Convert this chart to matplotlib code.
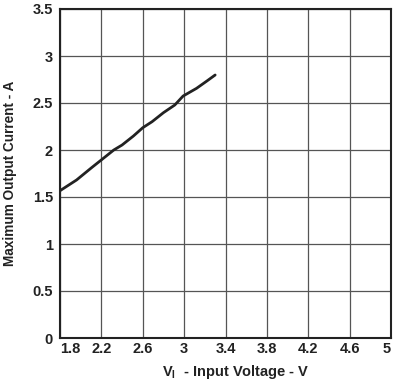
import matplotlib

matplotlib.use("Agg")
import matplotlib.pyplot as plt

plt.rcParams["font.family"] = ["Liberation Sans", "DejaVu Sans"]
plt.rcParams["font.weight"] = "bold"
plt.rcParams["mathtext.fontset"] = "custom"
plt.rcParams["mathtext.bf"] = "Liberation Sans:bold"
plt.rcParams["mathtext.rm"] = "Liberation Sans:bold"

input_voltage = [1.80, 1.96, 2.11, 2.19, 2.32, 2.40, 2.51, 2.60, 2.69, 2.80, 2.91, 2.99, 3.12, 3.22, 3.30]
max_current = [1.567, 1.681, 1.816, 1.886, 2.000, 2.053, 2.149, 2.237, 2.301, 2.397, 2.479, 2.574, 2.656, 2.734, 2.798]

x_ticks = [1.8, 2.2, 2.6, 3.0, 3.4, 3.8, 4.2, 4.6, 5.0]
x_tick_labels = ["1.8", "2.2", "2.6", "3", "3.4", "3.8", "4.2", "4.6", "5"]
y_ticks = [0, 0.5, 1, 1.5, 2, 2.5, 3, 3.5]
y_tick_labels = ["0", "0.5", "1", "1.5", "2", "2.5", "3", "3.5"]

fig = plt.figure(figsize=(3.96, 3.81), dpi=100)
ax = fig.add_axes([60 / 396, 43 / 381, 331 / 396, 329 / 381])

ax.plot(input_voltage, max_current, color="#222222", linewidth=2.0, solid_capstyle="round")

ax.set_xlim(1.8, 5.0)
ax.set_ylim(0, 3.5)
ax.set_xticks(x_ticks)
ax.set_xticklabels(x_tick_labels)
ax.set_yticks(y_ticks)
ax.set_yticklabels(y_tick_labels)
ax.tick_params(length=0, labelsize=10.5, colors="#222222")
ax.tick_params(axis="x", pad=3)
ax.tick_params(axis="y", pad=5)
ax.get_xticklabels()[0].set_horizontalalignment("left")
ax.get_xticklabels()[-1].set_horizontalalignment("right")
ax.grid(True, color="#555555", linewidth=0.9)
for spine in ax.spines.values():
    spine.set_color("#222222")
    spine.set_linewidth(1.5)

ax.set_xlabel(r"V$_\mathbf{I}$  - Input Voltage - V", fontsize=10.5, fontweight="bold", color="#222222", labelpad=3)
ax.xaxis.set_label_coords(0.53, -0.075)
ax.set_ylabel("Maximum Output Current - A", fontsize=9.8, fontweight="bold", color="#222222", labelpad=11)

fig.savefig("out.png", dpi=100)
